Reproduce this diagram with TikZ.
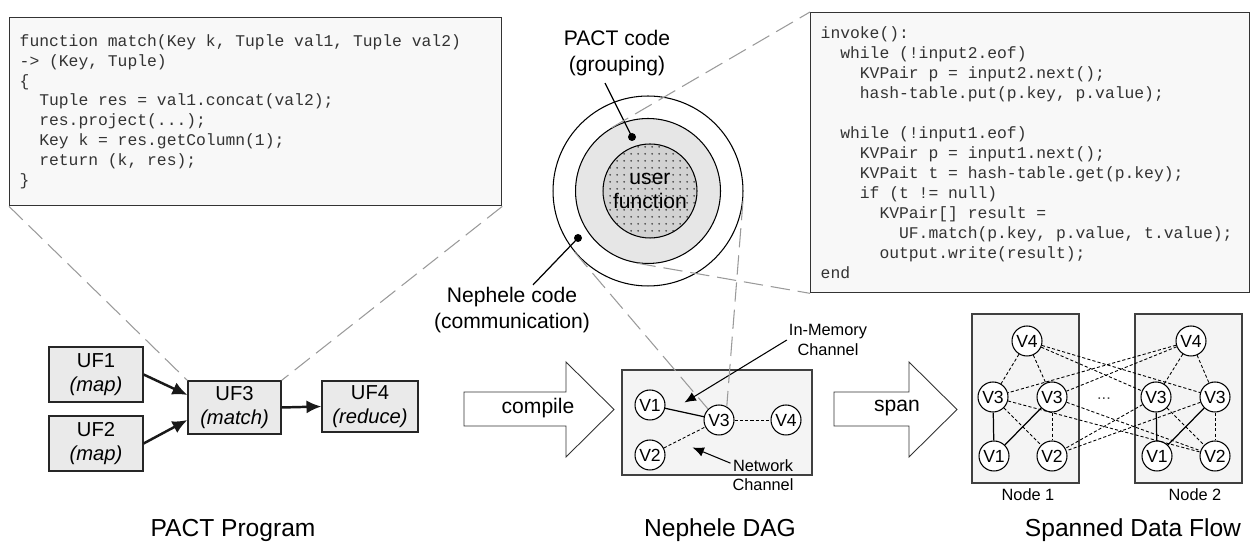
\documentclass[tikz,border=0pt]{standalone}
\usepackage{fontspec}
\setmainfont{Liberation Sans}
\setmonofont{Liberation Mono}
\usetikzlibrary{arrows.meta,calc,patterns.meta}

\definecolor{codebg}{HTML}{F8F8F8}
\definecolor{boxgray}{HTML}{EAEAEA}
\definecolor{panelgray}{HTML}{F4F4F4}
\definecolor{ringgray}{HTML}{E6E6E6}
\definecolor{coregray}{HTML}{D2D2D2}
\definecolor{zoomgray}{HTML}{9A9A9A}

% indentation in code listings (n characters)
\newcommand\codeind[1]{\hspace*{\dimexpr#1em*6/10\relax}}
% fixed-width word spaces in code listings
\newcommand\codespaces{\spaceskip=0.6em\relax\xspaceskip=0.6em\relax}

\begin{document}
\begin{tikzpicture}[x=0.02cm, y=-0.02cm,
    codebox/.style={draw=black!80, line width=0.8pt, fill=codebg, text=black!80, anchor=north west,
      align=left, inner xsep=0.2cm, inner ysep=0pt, font=\ttfamily\fontsize{9.3}{11.34}\selectfont},
    ufbox/.style={draw=black!85, line width=0.7pt, fill=boxgray, minimum width=1.88cm,
      minimum height=1.06cm, align=center, inner sep=0pt, font=\fontsize{11.5}{14}\selectfont},
    panel/.style={draw=black!75, line width=0.6pt, fill=panelgray},
    vnode/.style={circle, draw, fill=white, line width=0.6pt, minimum size=0.6cm, inner sep=0pt,
      font=\fontsize{10}{12}\selectfont},
    heading/.style={font=\fontsize{14}{16}\selectfont},
    smalltext/.style={font=\fontsize{9.3}{11}\selectfont, align=center, inner sep=1pt},
    annot/.style={font=\fontsize{12}{15}\selectfont, align=center, inner sep=1pt},
    zoomline/.style={draw=zoomgray, line width=0.6pt, dash pattern=on 11pt off 4.5pt},
    flowarrow/.style={-{Latex[length=8.5pt,width=7.5pt]}, line width=1.4pt, black!90},
    pointer/.style={-{Latex[length=6.5pt,width=5.5pt]}, line width=0.6pt},
    netline/.style={line width=0.5pt, dash pattern=on 1.8pt off 1.2pt},
    memline/.style={line width=0.7pt},
    bigarrow/.style={draw=black!80, line width=0.5pt, fill=white, line join=miter}]

  \useasboundingbox (0,0) rectangle (1251,546);

  % code listings
  \node[codebox, minimum width=9.84cm, minimum height=3.76cm, text width=9.44cm] (matchcode) at (9,17) {%
    \codespaces function match(Key k, Tuple val1, Tuple val2)\\
    -> (Key, Tuple)\\
    \{\\
    \codeind{2}Tuple res = val1.concat(val2);\\
    \codeind{2}res.project(...);\\
    \codeind{2}Key k = res.getColumn(1);\\
    \codeind{2}return (k, res);\\
    \}};

  \node[codebox, minimum width=8.78cm, minimum height=5.6cm, text width=8.38cm] (invokecode) at (810,12) {%
    \codespaces invoke():\\
    \codeind{2}while (!input2.eof)\\
    \codeind{4}KVPair p = input2.next();\\
    \codeind{4}hash-table.put(p.key, p.value);\\
    \mbox{}\\
    \codeind{2}while (!input1.eof)\\
    \codeind{4}KVPair p = input1.next();\\
    \codeind{4}KVPait t = hash-table.get(p.key);\\
    \codeind{4}if (t != null)\\
    \codeind{6}KVPair[] result =\\
    \codeind{8}UF.match(p.key, p.value, t.value);\\
    \codeind{6}output.write(result);\\
    end};

  % task layers
  \node[circle, draw, line width=0.6pt, minimum size=3.8cm] (nephele) at (648,191) {};
  \node[circle, draw, line width=0.6pt, fill=ringgray, minimum size=2.9cm] (pact) at (648,191) {};
  \node[circle, draw, line width=0.6pt, fill=coregray, minimum size=1.88cm, inner sep=0pt,
    postaction={pattern color=black!80, pattern={Dots[radius=0.6pt,distance=4pt]}},
    align=center, font=\fontsize{12}{13.6}\selectfont] (userfn) at (650,191) {user\\function};

  \node[annot] (pactlabel) at (617,53) {PACT code\\(grouping)};
  \node[annot] (nephlabel) at (512,310) {Nephele code\\(communication)};
  \coordinate (pactdot) at (632,137);
  \coordinate (nephdot) at (578,238);
  \fill (pactdot) circle (0.08cm);
  \fill (nephdot) circle (0.08cm);
  \draw[line width=0.7pt] ([xshift=-0.24cm,yshift=-0.1cm]pactlabel.south) -- (pactdot);
  \draw[line width=0.7pt] ([xshift=0.42cm]nephlabel.north) -- (nephdot);

  % PACT program
  \node[ufbox, minimum height=1.1cm] (uf1) at (96,374.5) {UF1\\\textit{(map)}};
  \node[ufbox, minimum height=1.1cm] (uf2) at (96,443.5) {UF2\\\textit{(map)}};
  \node[ufbox, minimum width=1.86cm] (uf3) at (234.5,407.5) {UF3\\\textit{(match)}};
  \node[ufbox, minimum width=1.92cm, minimum height=1.02cm] (uf4) at (370,406.5) {UF4\\\textit{(reduce)}};

  \draw[flowarrow] (uf1.east) -- ([yshift=0.25cm]uf3.west);
  \draw[flowarrow] (uf2.east) -- ([yshift=-0.25cm]uf3.west);
  \draw[flowarrow] (uf3.east) -- (uf4.west);

  % compile
  \draw[bigarrow] (464,392) -- (566,392) -- (566,362) -- (614,409.5) -- (566,457) -- (566,426) -- (464,426) -- cycle;
  \node[annot] (compile) at (538,408) {compile};

  % Nephele DAG
  \node[panel, minimum width=3.8cm, minimum height=2.1cm] (dag) at (717,422.5) {};
  \node[vnode] (v1) at (650,405) {V1};
  \node[vnode] (v2) at (650,455) {V2};
  \node[vnode] (v3) at (719,420) {V3};
  \node[vnode] (v4) at (786,420) {V4};

  \draw[memline] (v1) -- (v3);
  \draw[netline] (v2) -- (v3);
  \draw[netline] (v3) -- (v4);

  \node[smalltext] (memlabel) at (828,340) {In-Memory\\Channel};
  \node[smalltext] (netlabel) at (763,475) {Network\\Channel};
  \coordinate (memtip) at ($(v1)!0.5!(v3)+(0,-10)$);
  \coordinate (nettip) at ($(v2)!0.5!(v3)+(8,10)$);
  \draw[pointer] (memlabel.west) -- (memtip);
  \draw[pointer] (netlabel.160) -- (nettip);

  % span
  \draw[bigarrow] (834,392) -- (909,392) -- (909,362) -- (957,409.5) -- (909,457) -- (909,426) -- (834,426) -- cycle;
  \node[annot] (span) at (897,408) {span};

  % spanned data flow
  \node[panel, minimum width=2.14cm, minimum height=3.38cm] (host1) at (1025.5,398.5) {};
  \node[panel, minimum width=2.14cm, minimum height=3.38cm] (host2) at (1188.5,398.5) {};

  \node[vnode] (n1v4) at (1027,341) {V4};
  \node[vnode] (n1v3a) at (993,397) {V3};
  \node[vnode] (n1v3b) at (1052,397) {V3};
  \node[vnode] (n1v1) at (994,456) {V1};
  \node[vnode] (n1v2) at (1052,456) {V2};

  \node[vnode] (n2v4) at (1191,341) {V4};
  \node[vnode] (n2v3a) at (1156,397) {V3};
  \node[vnode] (n2v3b) at (1215,397) {V3};
  \node[vnode] (n2v1) at (1157,456) {V1};
  \node[vnode] (n2v2) at (1215,456) {V2};

  \node[smalltext, text=black!70] (gap) at (1104,399) {...};
  \node[smalltext] (host1label) at (1028,495) {Node 1};
  \node[smalltext] (host2label) at (1195,495) {Node 2};

  \draw[netline] (n1v4) -- (n1v3a);
  \draw[netline] (n1v4) -- (n1v3b);
  \draw[netline] (n1v4) -- (n2v3a);
  \draw[netline] (n1v4) -- (n2v3b);
  \draw[netline] (n2v4) -- (n2v3a);
  \draw[netline] (n2v4) -- (n2v3b);
  \draw[netline] (n2v4) -- (n1v3a);
  \draw[netline] (n2v4) -- (n1v3b);

  \draw[netline] (n1v3a) -- (n1v2);
  \draw[netline] (n1v3a) -- (n2v2);
  \draw[netline] (n1v3b) -- (n1v2);
  \draw[netline] (n1v3b) -- (n2v2);
  \draw[netline] (n2v3a) -- (n1v2);
  \draw[netline] (n2v3a) -- (n2v2);
  \draw[netline] (n2v3b) -- (n1v2);
  \draw[netline] (n2v3b) -- (n2v2);

  \draw[memline] (n1v3a) -- (n1v1);
  \draw[memline] (n1v3b) -- (n1v1);
  \draw[memline] (n2v3a) -- (n2v1);
  \draw[memline] (n2v3b) -- (n2v1);

  % zoom lines
  \draw[zoomline] (matchcode.south west) -- (uf3.north west);
  \draw[zoomline] (matchcode.south east) -- (uf3.north east);
  \draw[zoomline] (pact.120.4) -- (invokecode.north west);
  \draw[zoomline] (pact.-99.6) -- (invokecode.south west);
  \draw[zoomline] (nephele.220.5) -- (v3.135);
  \draw[zoomline] (nephele.-6) -- (v3.60);

  % titles
  \node[heading] (pacttitle) at (233,530) {PACT Program};
  \node[heading] (dagtitle) at (720,530) {Nephele DAG};
  \node[heading] (flowtitle) at (1133,530) {Spanned Data Flow};
\end{tikzpicture}
\end{document}
